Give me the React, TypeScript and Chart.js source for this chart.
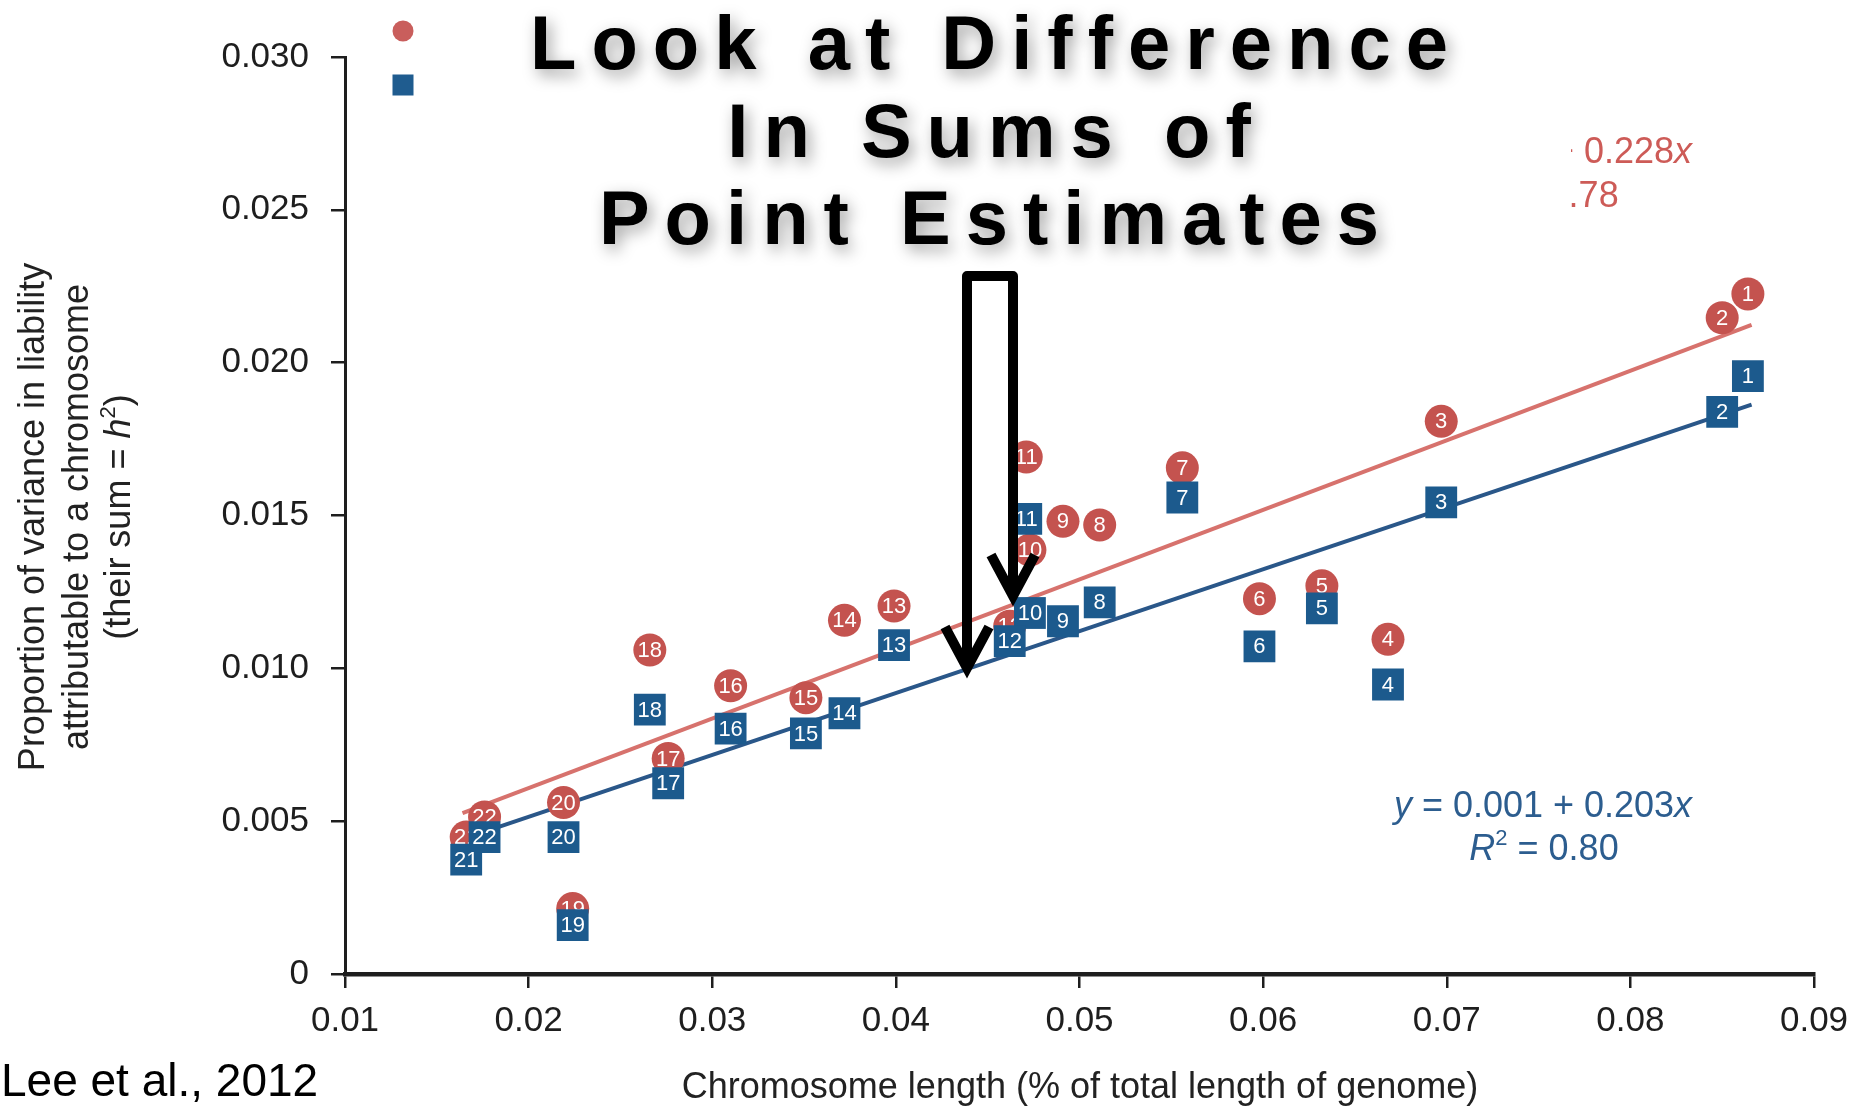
import React, { useEffect, useRef } from 'react';
import { Chart, registerables } from 'chart.js';

Chart.register(...registerables);

// ---------- data ----------
const chromosomes = ['1', '2', '3', '4', '5', '6', '7', '8', '9', '10', '11', '12', '13', '14', '15', '16', '17', '18', '19', '20', '21', '22'];
const chromosomeLength = [0.0864, 0.0850, 0.0697, 0.0668, 0.0632, 0.0598, 0.0556, 0.0511, 0.0491, 0.0473, 0.0471, 0.0462, 0.0399, 0.0372, 0.0351, 0.0310, 0.0276, 0.0266, 0.0224, 0.0219, 0.0166, 0.0176];
const redVariance = [0.02225, 0.02147, 0.01808, 0.01095, 0.0127, 0.01228, 0.01656, 0.01469, 0.01481, 0.01387, 0.01691, 0.01138, 0.01204, 0.01157, 0.00904, 0.00943, 0.00705, 0.0106, 0.00214, 0.00561, 0.00448, 0.00514];
const blueVariance = [0.01956, 0.01839, 0.01543, 0.00947, 0.01196, 0.01072, 0.01559, 0.01216, 0.01154, 0.01181, 0.01489, 0.01089, 0.01076, 0.00853, 0.00787, 0.00803, 0.00624, 0.00865, 0.0016, 0.00448, 0.00374, 0.00448];
const redFitX = [0.0164, 0.0866];
const redFitY = [0.00526, 0.02124];
const blueFitX = [0.0166, 0.0866];
const blueFitY = [0.00445, 0.01863];
const xTickValues = [0.01, 0.02, 0.03, 0.04, 0.05, 0.06, 0.07, 0.08, 0.09];
const xTickLabels = ['0.01', '0.02', '0.03', '0.04', '0.05', '0.06', '0.07', '0.08', '0.09'];
const yTickValues = [0, 0.005, 0.01, 0.015, 0.02, 0.025, 0.03];
const yTickLabels = ['0', '0.005', '0.010', '0.015', '0.020', '0.025', '0.030'];
const titleLines = ['Look at Difference', 'In Sums of', 'Point Estimates'];
const xTitle = 'Chromosome length (% of total length of genome)';
const citation = 'Lee et al., 2012';

// ---------- styles ----------
const FONT = '"Liberation Sans", Arial, Helvetica, sans-serif';
const RED_PT = '#c4534f';
const BLUE_PT = '#1c5a8d';
const RED_LINE = '#d7726d';
const BLUE_LINE = '#2a5789';
const RED_TXT = '#cd5b57';
const BLUE_TXT = '#2c5d8f';
const AXIS = '#1e1e1e';

type Seg = { t: string; it?: boolean; sup?: boolean };

function richWidth(ctx: CanvasRenderingContext2D, segs: Seg[], size: number) {
  let w = 0;
  for (const s of segs) {
    ctx.font = `${s.it ? 'italic ' : ''}${s.sup ? Math.round(size * 0.62) : size}px ${FONT}`;
    w += ctx.measureText(s.t).width;
  }
  return w;
}

function drawRich(ctx: CanvasRenderingContext2D, segs: Seg[], cx: number, baseline: number, size: number, color: string) {
  const total = richWidth(ctx, segs, size);
  let x = cx - total / 2;
  ctx.fillStyle = color;
  ctx.textAlign = 'left';
  ctx.textBaseline = 'alphabetic';
  for (const s of segs) {
    ctx.font = `${s.it ? 'italic ' : ''}${s.sup ? Math.round(size * 0.62) : size}px ${FONT}`;
    ctx.fillText(s.t, x, s.sup ? baseline - size * 0.42 : baseline);
    x += ctx.measureText(s.t).width;
  }
}

function drawSpaced(ctx: CanvasRenderingContext2D, text: string, cx: number, baseline: number, spacing: number) {
  const widths = Array.from(text).map((c) => ctx.measureText(c).width);
  const total = widths.reduce((a, b) => a + b, 0) + spacing * (text.length - 1);
  let x = cx - total / 2;
  Array.from(text).forEach((c, i) => {
    ctx.fillText(c, x, baseline);
    x += widths[i] + spacing;
  });
}

const overlayPlugin = {
  id: 'overlay',
  afterDatasetDraw(chart: any, args: any) {
    const ds: any = chart.data.datasets[args.index];
    if (!ds.pointLabels) return;
    const ctx: CanvasRenderingContext2D = chart.ctx;
    ctx.save();
    ctx.font = `22px ${FONT}`;
    ctx.fillStyle = '#ffffff';
    ctx.textAlign = 'center';
    ctx.textBaseline = 'middle';
    args.meta.data.forEach((el: any, i: number) => {
      ctx.fillText(ds.pointLabels[i], el.x, el.y + 1);
    });
    ctx.restore();
  },
  afterDraw(chart: any) {
    const ctx: CanvasRenderingContext2D = chart.ctx;
    ctx.save();

    // legend markers
    ctx.fillStyle = '#c95e5c';
    ctx.beginPath();
    ctx.arc(403, 31, 10.5, 0, Math.PI * 2);
    ctx.fill();
    ctx.fillStyle = '#1f5c8f';
    ctx.fillRect(392.5, 74.5, 21, 21);

    // y-axis title (rotated)
    const yLines: Seg[][] = [
      [{ t: 'Proportion of variance in liability' }],
      [{ t: 'attributable to a chromosome' }],
      [{ t: '(their sum = ' }, { t: 'h', it: true }, { t: '2', sup: true }, { t: ')' }],
    ];
    const yCenters = [33, 77, 119];
    yLines.forEach((segs, i) => {
      ctx.save();
      ctx.translate(yCenters[i] + 11, 517);
      ctx.rotate(-Math.PI / 2);
      drawRich(ctx, segs, 0, 0, 36, '#222222');
      ctx.restore();
    });

    // x-axis title
    drawRich(ctx, [{ t: xTitle }], 1080, 1098, 36, '#222222');

    // citation
    ctx.font = `46px ${FONT}`;
    ctx.fillStyle = '#000000';
    ctx.textAlign = 'left';
    ctx.textBaseline = 'alphabetic';
    ctx.fillText(citation, 1, 1096);

    // blue equation
    drawRich(ctx, [{ t: 'y', it: true }, { t: ' = 0.001 + 0.203' }, { t: 'x', it: true }], 1543, 817, 36, BLUE_TXT);
    drawRich(ctx, [{ t: 'R', it: true }, { t: '2', sup: true }, { t: ' = 0.80' }], 1544, 860, 36, BLUE_TXT);

    // red equation, partly hidden by the title box
    ctx.save();
    ctx.beginPath();
    ctx.rect(1571, 0, 400, 300);
    ctx.clip();
    drawRich(ctx, [{ t: 'y', it: true }, { t: ' = 0.001 + 0.228' }, { t: 'x', it: true }], 1543, 163, 36, RED_TXT);
    drawRich(ctx, [{ t: 'R', it: true }, { t: '2', sup: true }, { t: ' = 0.78' }], 1544, 207, 36, RED_TXT);
    ctx.restore();

    // title with soft grey glow
    ctx.save();
    ctx.font = `bold 76px ${FONT}`;
    ctx.fillStyle = '#000000';
    ctx.textAlign = 'left';
    ctx.textBaseline = 'alphabetic';
    ctx.shadowColor = 'rgba(0,0,0,0.38)';
    ctx.shadowBlur = 16;
    ctx.shadowOffsetX = 4;
    ctx.shadowOffsetY = 6;
    const baselines = [69, 157, 244];
    titleLines.forEach((line, i) => drawSpaced(ctx, line, 989, baselines[i], 15));
    ctx.restore();

    // bracket arrows
    ctx.strokeStyle = '#000000';
    ctx.lineWidth = 10;
    ctx.lineJoin = 'round';
    ctx.lineCap = 'butt';
    ctx.beginPath();
    ctx.moveTo(967, 664);
    ctx.lineTo(967, 276);
    ctx.lineTo(1013, 276);
    ctx.lineTo(1013, 594);
    ctx.stroke();
    ctx.lineJoin = 'miter';
    ctx.beginPath();
    ctx.moveTo(945, 627);
    ctx.lineTo(967, 668);
    ctx.lineTo(989, 627);
    ctx.stroke();
    ctx.beginPath();
    ctx.moveTo(991, 555);
    ctx.lineTo(1013, 596);
    ctx.lineTo(1035, 555);
    ctx.stroke();

    ctx.restore();
  },
};

export default function App() {
  const ref = useRef<HTMLCanvasElement>(null);
  useEffect(() => {
    const canvas = ref.current;
    if (!canvas) return;
    const tickFont = { family: FONT, size: 35 };
    const chart = new Chart(canvas, {
      type: 'scatter',
      data: {
        datasets: [
          {
            label: 'blue',
            data: chromosomeLength.map((x, i) => ({ x, y: blueVariance[i] })),
            pointStyle: 'rect',
            pointRadius: 22.5,
            pointHoverRadius: 22.5,
            backgroundColor: BLUE_PT,
            borderWidth: 0,
            order: 0,
            pointLabels: chromosomes,
          } as any,
          {
            label: 'red',
            data: chromosomeLength.map((x, i) => ({ x, y: redVariance[i] })),
            pointStyle: 'circle',
            pointRadius: 16.5,
            pointHoverRadius: 16.5,
            backgroundColor: RED_PT,
            borderWidth: 0,
            order: 1,
            pointLabels: chromosomes,
          } as any,
          {
            label: 'red fit',
            data: redFitX.map((x, i) => ({ x, y: redFitY[i] })),
            showLine: true,
            borderColor: RED_LINE,
            borderWidth: 4,
            pointRadius: 0,
            fill: false,
            order: 2,
          } as any,
          {
            label: 'blue fit',
            data: blueFitX.map((x, i) => ({ x, y: blueFitY[i] })),
            showLine: true,
            borderColor: BLUE_LINE,
            borderWidth: 4,
            pointRadius: 0,
            fill: false,
            order: 3,
          } as any,
        ],
      },
      options: {
        responsive: false,
        devicePixelRatio: 1,
        animation: false,
        events: [],
        layout: { padding: { left: 0, right: 54, top: 57, bottom: 0 } },
        plugins: { legend: { display: false }, tooltip: { enabled: false } },
        scales: {
          x: {
            type: 'linear',
            min: 0.01,
            max: 0.09,
            afterBuildTicks: (s: any) => {
              s.ticks = xTickValues.map((v) => ({ value: v }));
            },
            afterFit: (s: any) => {
              s.height = 134;
            },
            ticks: {
              callback: (_v: any, i: number) => xTickLabels[i],
              font: tickFont,
              color: AXIS,
              padding: 12,
              maxRotation: 0,
              autoSkip: false,
            },
            grid: { display: true, drawOnChartArea: false, drawTicks: true, tickLength: 14, color: AXIS, lineWidth: 2.5 },
            border: { display: true, color: AXIS, width: 4.5 },
          },
          y: {
            type: 'linear',
            min: 0,
            max: 0.03,
            afterBuildTicks: (s: any) => {
              s.ticks = yTickValues.map((v) => ({ value: v }));
            },
            afterFit: (s: any) => {
              s.width = 345;
            },
            ticks: {
              callback: (_v: any, i: number) => yTickLabels[i],
              font: tickFont,
              color: AXIS,
              padding: 22,
              autoSkip: false,
            },
            grid: { display: true, drawOnChartArea: false, drawTicks: true, tickLength: 14, color: AXIS, lineWidth: 2.5 },
            border: { display: true, color: AXIS, width: 3 },
          },
        },
      } as any,
      plugins: [overlayPlugin as any],
    });
    return () => chart.destroy();
  }, []);

  return (
    <div style={{ position: 'fixed', left: 0, top: 0, width: 1868, height: 1108, background: '#ffffff' }}>
      <canvas ref={ref} width={1868} height={1108} style={{ display: 'block', width: 1868, height: 1108 }} />
    </div>
  );
}
